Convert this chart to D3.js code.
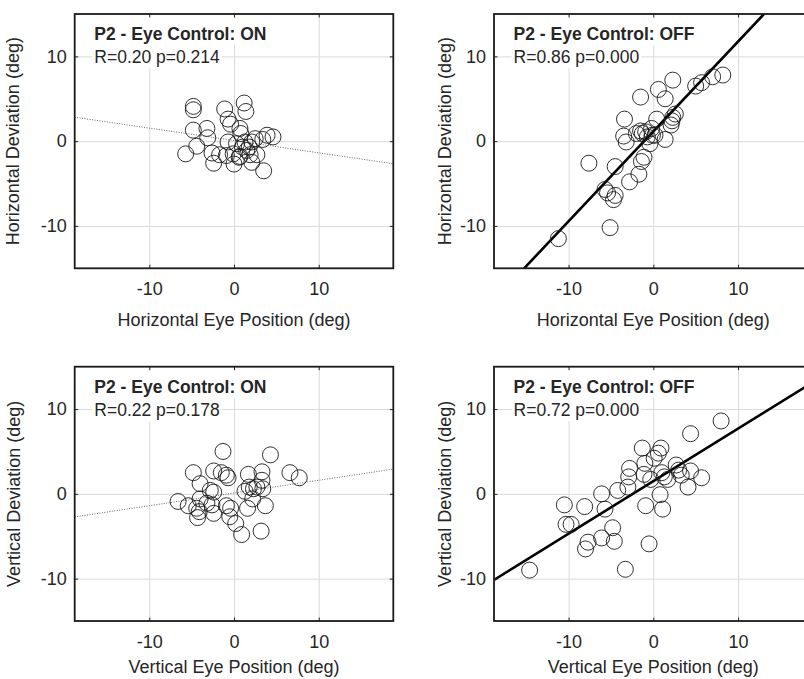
<!DOCTYPE html>
<html>
<head>
<meta charset="utf-8">
<script src="https://cdn.jsdelivr.net/npm/d3@7"></script>
<style>
  body { margin: 0; background: #fff; }
  svg { display: block; }
  text { font-family: Arial, "Liberation Sans", Helvetica, sans-serif; fill: #262626; }
</style>
</head>
<body>
<svg id="chart" width="804" height="679"></svg>
<script>
// Axis limits and ticks (deg)
const xLimits = [-18.8, 18.8];
const yLimits = [-15, 15];
const tickValues = [-10, 0, 10];

// Horizontal, eye control ON
const hOnX = [-4.8, -4.8, -1.1, 1.2, 1.4, -4.8, -3.2, -3.1, -0.7, -0.4, 0.7, 0.8, -4.4, -5.7, -2.6, -2.4, -1.7, -0.7, -0.1, 0.0, 0.7, 1.0, 1.5, 1.8, 2.1, 2.5, 2.7, 2.1, 3.5, 3.9, 4.6, 3.4, 1.9, 0.3, 1.3, 0.6, -0.9];
const hOnY = [4.1, 3.7, 3.8, 4.5, 3.5, 1.3, 1.5, 0.4, 2.6, 2.0, 1.5, 0.9, -0.6, -1.5, -1.4, -2.6, -1.6, -0.1, -1.5, -2.7, -1.8, -0.7, -1.1, -0.7, -0.1, 0.3, -1.6, -2.5, -3.5, 0.7, 0.5, 0.2, -1.6, -0.3, -0.1, -1.9, -1.7];

// Horizontal, eye control OFF
const hOffX = [-11.2, -5.1, -5.7, -5.4, -4.5, -4.7, -7.6, -4.5, -2.8, -1.7, -1.4, -1.1, -3.4, -3.5, -3.2, -1.5, -1.3, -0.7, -0.4, -0.2, 0.2, 0.4, 1.4, -1.5, 0.6, 1.4, 2.3, 2.1, 2.3, 2.6, 5.0, 5.7, 7.0, 8.2, -0.9, -0.1, -2.0, 2.2];
const hOffY = [-11.5, -10.2, -5.7, -6.1, -6.4, -6.9, -2.6, -3.0, -4.8, -3.9, -2.4, -1.9, 2.6, 0.6, -0.1, 1.2, 0.9, 0.5, -0.3, 1.5, 0.7, 2.6, 0.2, 5.2, 6.1, 5.0, 7.2, 1.9, 2.8, 3.2, 6.5, 6.9, 7.6, 7.8, 1.1, 0.7, 0.9, 2.4];

// Vertical, eye control ON
const vOnX = [-1.3, 4.3, -4.8, -2.4, -1.5, -0.9, -0.7, 1.7, 3.3, 3.3, 6.6, 7.7, -4.0, -2.8, -2.4, -4.0, -6.6, -5.4, -4.4, -4.1, -4.3, -2.6, -2.4, -0.4, -0.5, 0.2, 0.9, 3.2, 1.6, 1.3, 1.8, 2.3, 2.7, 3.4, 3.7, 2.2, -0.9, -3.2];
const vOnY = [5.0, 4.6, 2.5, 2.7, 2.5, 2.2, 1.9, 2.3, 2.6, 1.6, 2.5, 1.9, 1.2, 0.4, 0.2, -0.6, -0.9, -1.4, -1.7, -2.1, -2.8, -1.3, -2.3, -1.7, -2.7, -3.5, -4.8, -4.4, -1.7, 0.3, 0.8, 0.6, 0.8, 0.6, -1.4, -0.6, -1.4, -1.1];

// Vertical, eye control OFF
const vOffX = [-14.6, -3.3, -0.5, -8.0, -7.7, -6.1, -4.6, -4.8, -10.5, -8.1, -10.3, -9.7, -6.1, -5.7, -4.2, -3.0, -2.9, -2.8, -1.3, -1.0, -1.1, -0.3, 0.1, 0.6, 0.9, 1.0, 1.3, 1.7, 2.7, 3.0, 3.3, 4.4, 5.7, 4.1, 4.4, 8.0, 0.8, 1.1, -0.9];
const vOffY = [-9.0, -8.9, -5.9, -6.5, -5.7, -5.2, -5.6, -4.0, -1.3, -1.5, -3.6, -3.6, 0.0, -1.8, 0.4, 0.8, 2.0, 3.0, 5.4, 3.6, 2.3, 1.7, 4.2, 4.8, 5.4, 2.5, 2.0, 1.7, 3.4, 2.8, 2.2, 2.7, 1.9, 0.8, 7.1, 8.6, -0.1, -1.8, -1.4];

// Regression fits [slope, intercept]
const fitHOn = [-0.146, 0.08];
const fitHOff = [1.06, 1.15];
const fitVOn = [0.15, 0.1];
const fitVOff = [0.62, 1.5];

const titles = ["P2 - Eye Control: ON", "P2 - Eye Control: OFF", "P2 - Eye Control: ON", "P2 - Eye Control: OFF"];
const stats = ["R=0.20 p=0.214", "R=0.86 p=0.000", "R=0.22 p=0.178", "R=0.72 p=0.000"];
const xLabels = ["Horizontal Eye Position (deg)", "Horizontal Eye Position (deg)", "Vertical Eye Position (deg)", "Vertical Eye Position (deg)"];
const yLabels = ["Horizontal Deviation (deg)", "Horizontal Deviation (deg)", "Vertical Deviation (deg)", "Vertical Deviation (deg)"];

const svg = d3.select("#chart");
const plotW = 318.6;
const plotH = 254.3;

const panels = [
  { left: 74.7, top: 14, xs: hOnX, ys: hOnY, fit: fitHOn, solid: false, yLabelX: 18.5, xLabelDy: 58 },
  { left: 494, top: 14, xs: hOffX, ys: hOffY, fit: fitHOff, solid: true, yLabelX: 451, xLabelDy: 58 },
  { left: 74.7, top: 366.7, xs: vOnX, ys: vOnY, fit: fitVOn, solid: false, yLabelX: 20, xLabelDy: 52 },
  { left: 494, top: 366.7, xs: vOffX, ys: vOffY, fit: fitVOff, solid: true, yLabelX: 451, xLabelDy: 52 }
];

function styleAxis(sel) {
  sel.attr("font-family", null).attr("font-size", null);
  sel.select(".domain").remove();
}

const plainFormat = function(d) { return String(d); };

panels.forEach(function(p, i) {
  const x = d3.scaleLinear().domain(xLimits).range([0, plotW]);
  const y = d3.scaleLinear().domain(yLimits).range([plotH, 0]);
  const g = svg.append("g").attr("transform", "translate(" + p.left + "," + p.top + ")");

  g.append("clipPath").attr("id", "clip" + i)
    .append("rect").attr("width", plotW).attr("height", plotH);

  // grid
  g.append("g").attr("transform", "translate(0," + plotH + ")")
    .call(d3.axisBottom(x).tickValues(tickValues).tickSize(-plotH).tickFormat(""))
    .call(styleAxis)
    .selectAll("line").attr("stroke", "#dadada").attr("stroke-width", 1);
  g.append("g")
    .call(d3.axisLeft(y).tickValues(tickValues).tickSize(-plotW).tickFormat(""))
    .call(styleAxis)
    .selectAll("line").attr("stroke", "#dadada").attr("stroke-width", 1);

  // text boxes (white background)
  const title = g.append("text").attr("x", 19.6).attr("y", 26)
    .attr("font-size", 17.5).attr("font-weight", "bold").text(titles[i]);
  const stat = g.append("text").attr("x", 19.6).attr("y", 49.3)
    .attr("font-size", 17.5).text(stats[i]);
  const tb = title.node().getBBox();
  const sb = stat.node().getBBox();
  const tBottom = tb.y + tb.height + 1;
  g.insert("rect", function() { return title.node(); })
    .attr("x", sb.x - 2).attr("y", tBottom)
    .attr("width", sb.width + 4).attr("height", sb.y + sb.height + 1 - tBottom).attr("fill", "#fff");
  g.insert("rect", function() { return title.node(); })
    .attr("x", tb.x - 2).attr("y", 0)
    .attr("width", tb.width + 4).attr("height", tBottom).attr("fill", "#fff");

  // regression line
  g.append("line").attr("clip-path", "url(#clip" + i + ")")
    .attr("x1", x(xLimits[0])).attr("y1", y(p.fit[0] * xLimits[0] + p.fit[1]))
    .attr("x2", x(xLimits[1])).attr("y2", y(p.fit[0] * xLimits[1] + p.fit[1]))
    .attr("stroke", p.solid ? "#000" : "#666")
    .attr("stroke-width", p.solid ? 2.6 : 1)
    .attr("stroke-dasharray", p.solid ? null : "1,1.5");

  // points
  g.append("g").attr("clip-path", "url(#clip" + i + ")")
    .selectAll("circle").data(d3.range(p.xs.length)).enter().append("circle")
    .attr("cx", function(d) { return x(p.xs[d]); })
    .attr("cy", function(d) { return y(p.ys[d]); })
    .attr("r", 8)
    .attr("fill", "none")
    .attr("stroke", "#1a1a1a")
    .attr("stroke-width", 0.9);

  // inward ticks on every side
  const tl = 3.5;
  [[d3.axisBottom(x), plotH, 0], [d3.axisTop(x), 0, 0], [d3.axisLeft(y), 0, 0], [d3.axisRight(y), 0, plotW]]
    .forEach(function(a) {
      g.append("g").attr("transform", "translate(" + a[2] + "," + a[1] + ")")
        .call(a[0].tickValues(tickValues).tickSize(-tl).tickFormat(""))
        .call(styleAxis)
        .selectAll("line").attr("stroke", "#262626").attr("stroke-width", 1);
    });

  // box
  g.append("rect").attr("width", plotW).attr("height", plotH)
    .attr("fill", "none").attr("stroke", "#1a1a1a").attr("stroke-width", 1.8);

  // tick labels
  g.append("g").attr("transform", "translate(0," + plotH + ")")
    .call(d3.axisBottom(x).tickValues(tickValues).tickSize(0).tickPadding(14).tickFormat(plainFormat))
    .call(styleAxis)
    .selectAll("text").attr("font-size", 18).attr("fill", "#262626");
  g.append("g")
    .call(d3.axisLeft(y).tickValues(tickValues).tickSize(0).tickPadding(8).tickFormat(plainFormat))
    .call(styleAxis)
    .selectAll("text").attr("font-size", 18).attr("fill", "#262626");

  // axis labels
  g.append("text").attr("x", plotW / 2).attr("y", plotH + p.xLabelDy)
    .attr("text-anchor", "middle").attr("font-size", 18).text(xLabels[i]);
  svg.append("text")
    .attr("transform", "translate(" + p.yLabelX + "," + (p.top + plotH / 2) + ") rotate(-90)")
    .attr("text-anchor", "middle").attr("font-size", 18).text(yLabels[i]);
});
</script>
</body>
</html>
